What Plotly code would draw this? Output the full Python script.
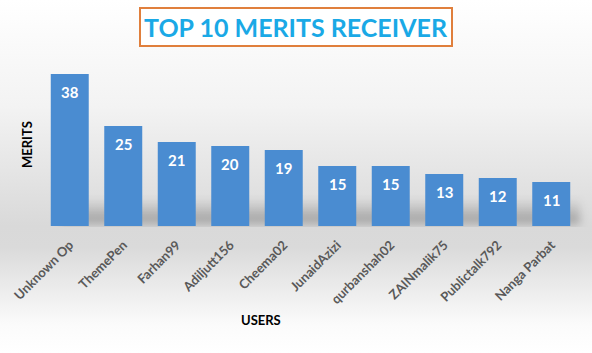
import base64
import plotly.graph_objects as go

users = ["Unknown Op", "ThemePen", "Farhan99", "Adiljutt156", "Cheema02",
         "JunaidAzizi", "qurbanshah02", "ZAINmalik75", "Publictalk792", "Nanga Parbat"]
merits = [38, 25, 21, 20, 19, 15, 15, 13, 12, 11]
title_text = "TOP 10 MERITS RECEIVER"
x_title = "USERS"
y_title = "MERITS"

W, H = 592, 353
svg = f'''<svg xmlns="http://www.w3.org/2000/svg" width="{W}" height="{H}" viewBox="0 0 {W} {H}">
<defs>
<linearGradient id="g" x1="0" y1="0" x2="0" y2="1">
<stop offset="0" stop-color="#ffffff"/>
<stop offset="0.30" stop-color="#f3f3f3"/>
<stop offset="0.64" stop-color="#d9d9d9"/>
<stop offset="0.70" stop-color="#dadada"/>
<stop offset="0.92" stop-color="#fbfbfb"/>
<stop offset="1" stop-color="#ffffff"/>
</linearGradient>
<linearGradient id="s" x1="0" y1="0" x2="0" y2="1">
<stop offset="0" stop-color="#000" stop-opacity="0"/>
<stop offset="1" stop-color="#000" stop-opacity="0.28"/>
</linearGradient>
<filter id="b"><feGaussianBlur stdDeviation="4"/></filter>
</defs>
<rect width="{W}" height="{H}" fill="url(#g)"/>
<rect x="60" y="198" width="520" height="26" fill="url(#s)" filter="url(#b)"/>
</svg>'''
src = "data:image/svg+xml;base64," + base64.b64encode(svg.encode()).decode()

fig = go.Figure()
fig.add_trace(go.Bar(
    x=users, y=merits,
    marker=dict(color="#4a8cd1", line=dict(width=0)),
    width=0.71, hoverinfo="skip",
))

annotations = [
    dict(text=f"<b>{title_text}</b>", xref="paper", yref="paper",
         x=(296-43)/535, y=1+(66-27)/160, xanchor="center", yanchor="middle",
         showarrow=False, font=dict(family="Lato", size=25, color="#1aa9e6"),
         bgcolor="white", bordercolor="#e07f3c", borderwidth=2, borderpad=3),
    dict(text=f"<b>{y_title}</b>", xref="paper", yref="paper",
         x=(27-43)/535, y=(226-145)/160, xanchor="center", yanchor="middle",
         textangle=-90, showarrow=False,
         font=dict(family="Lato", size=13, color="black")),
    dict(text=f"<b>{x_title}</b>", xref="paper", yref="paper",
         x=(261-43)/535, y=-(320-226)/160, xanchor="center", yanchor="middle",
         showarrow=False, font=dict(family="Lato", size=13, color="black")),
]
for u, v in zip(users, merits):
    annotations.append(dict(x=u, y=v, xref="x", yref="y", text=f"<b>{v}</b>",
                            showarrow=False, yanchor="middle", yshift=-18,
                            font=dict(family="Lato", size=15, color="white")))

fig.update_layout(
    width=W, height=H,
    margin=dict(l=43, r=14, t=66, b=127),
    paper_bgcolor="white", plot_bgcolor="rgba(0,0,0,0)",
    showlegend=False,
    font=dict(family="Lato"),
    images=[dict(source=src, xref="paper", yref="paper",
                 x=-43/535, y=1+66/160, sizex=W/535, sizey=H/160,
                 xanchor="left", yanchor="top", sizing="stretch", layer="below")],
    annotations=annotations,
)
fig.update_xaxes(tickangle=-45, showgrid=False, showline=False, ticks="",
                 ticklabelstandoff=8,
                 tickfont=dict(family="Lato", size=13, color="#595959", weight="bold"))
fig.update_yaxes(range=[0, 40], visible=False, showgrid=False)

fig.write_html("out.html")
